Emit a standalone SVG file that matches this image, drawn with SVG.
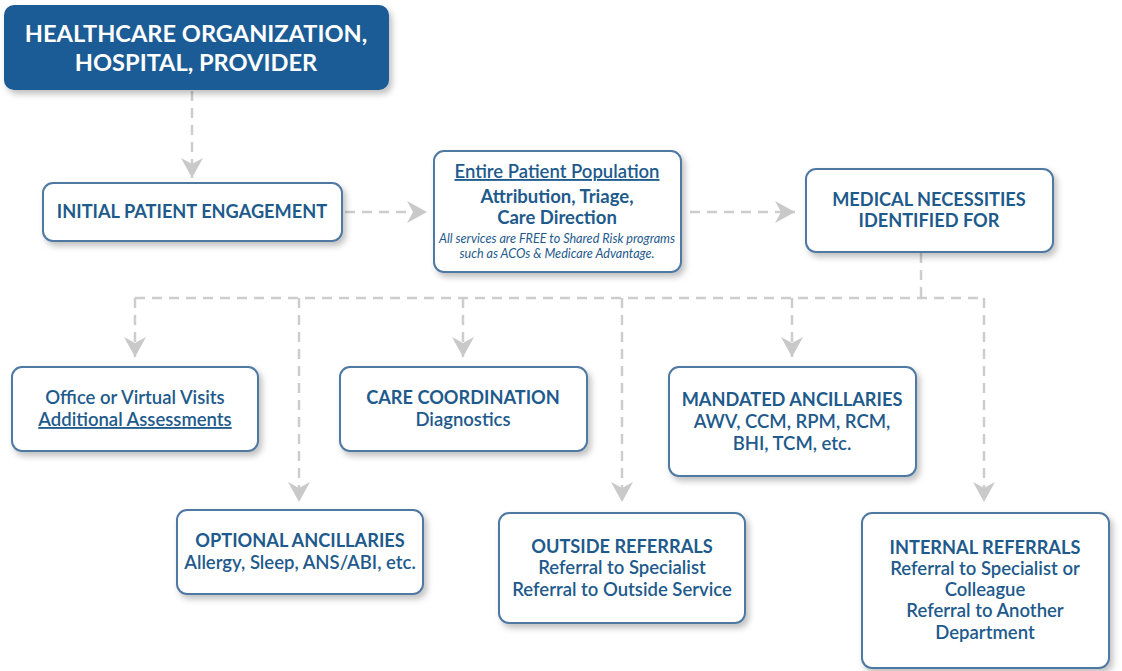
<svg xmlns="http://www.w3.org/2000/svg" width="1122" height="671" viewBox="0 0 1122 671">
<defs>
<filter id="sh" x="-10%" y="-10%" width="125%" height="135%">
<feDropShadow dx="3" dy="4" stdDeviation="3" flood-color="#000" flood-opacity="0.25"/>
</filter>
<marker id="ah" markerUnits="userSpaceOnUse" markerWidth="26" markerHeight="26" viewBox="-22 -13 24 26" refX="0" refY="0" orient="auto">
<path d="M-20,-11 L0,0 L-20,11 L-14,0 Z" fill="#c9c9c9"/>
</marker>
<style>
.box{fill:#fff;stroke:#4f78a3;stroke-width:2;filter:url(#sh)}
.t{font-family:Lato,"Liberation Sans",sans-serif;fill:#1e5a8c;text-anchor:middle}
.b{font-weight:700;font-size:18.2px}
.s{font-weight:600;font-size:18.5px}
.i{font-style:italic;font-size:12.6px}
.u{text-decoration:underline}
.c{fill:none;stroke:#cdcdcd;stroke-width:2.5;stroke-dasharray:10 7}
</style>
</defs>
<g id="connectors">
<path class="c" d="M192,91 V178" marker-end="url(#ah)"/>
<path class="c" d="M345,212 H427" marker-end="url(#ah)"/>
<path class="c" d="M690,212 H795" marker-end="url(#ah)"/>
<path class="c" d="M921,253 V298"/>
<path class="c" d="M135,298 H984"/>
<path class="c" d="M135,298 V357" marker-end="url(#ah)"/>
<path class="c" d="M299,298 V502" marker-end="url(#ah)"/>
<path class="c" d="M463,298 V357" marker-end="url(#ah)"/>
<path class="c" d="M622,298 V502" marker-end="url(#ah)"/>
<path class="c" d="M792,298 V357" marker-end="url(#ah)"/>
<path class="c" d="M984,298 V502" marker-end="url(#ah)"/>
</g>
<g id="top">
<rect x="4" y="5" width="385" height="85" rx="10" fill="#1c5b96" filter="url(#sh)"/>
<text class="t" x="196" y="42" style="fill:#fff;font-weight:700;font-size:23.6px">HEALTHCARE ORGANIZATION,</text>
<text class="t" x="196" y="71" style="fill:#fff;font-weight:700;font-size:23.6px">HOSPITAL, PROVIDER</text>
</g>
<g id="initial">
<rect class="box" x="43" y="183" width="299" height="58" rx="10"/>
<text class="t b" x="192" y="218">INITIAL PATIENT ENGAGEMENT</text>
</g>
<g id="population">
<rect class="box" x="434" y="151" width="247" height="121" rx="10"/>
<text class="t s u" x="557" y="178">Entire Patient Population</text>
<text class="t b" x="557" y="203" style="font-size:18.5px">Attribution, Triage,</text>
<text class="t b" x="557" y="224" style="font-size:18.5px">Care Direction</text>
<text class="t i" x="557" y="243">All services are FREE to Shared Risk programs</text>
<text class="t i" x="557" y="258">such as ACOs &amp; Medicare Advantage.</text>
</g>
<g id="necessities">
<rect class="box" x="806" y="169" width="247" height="83" rx="10"/>
<text class="t b" x="929" y="206">MEDICAL NECESSITIES</text>
<text class="t b" x="929" y="227">IDENTIFIED FOR</text>
</g>
<g id="office">
<rect class="box" x="12" y="367" width="246" height="84" rx="10"/>
<text class="t s" x="135" y="404">Office or Virtual Visits</text>
<text class="t s u" x="135" y="426">Additional Assessments</text>
</g>
<g id="care">
<rect class="box" x="340" y="367" width="247" height="84" rx="10"/>
<text class="t b" x="463" y="404">CARE COORDINATION</text>
<text class="t s" x="463" y="426">Diagnostics</text>
</g>
<g id="mandated">
<rect class="box" x="669" y="367" width="247" height="109" rx="10"/>
<text class="t b" x="792" y="406">MANDATED ANCILLARIES</text>
<text class="t s" x="792" y="428">AWV, CCM, RPM, RCM,</text>
<text class="t s" x="792" y="450">BHI, TCM, etc.</text>
</g>
<g id="optional">
<rect class="box" x="177" y="510" width="246" height="84" rx="10"/>
<text class="t b" x="300" y="547">OPTIONAL ANCILLARIES</text>
<text class="t s" x="300" y="569">Allergy, Sleep, ANS/ABI, etc.</text>
</g>
<g id="outside">
<rect class="box" x="499" y="513" width="246" height="110" rx="10"/>
<text class="t b" x="622" y="553">OUTSIDE REFERRALS</text>
<text class="t s" x="622" y="574">Referral to Specialist</text>
<text class="t s" x="622" y="596">Referral to Outside Service</text>
</g>
<g id="internal">
<rect class="box" x="862" y="513" width="247" height="155" rx="10"/>
<text class="t b" x="985" y="554">INTERNAL REFERRALS</text>
<text class="t s" x="985" y="575">Referral to Specialist or</text>
<text class="t s" x="985" y="596">Colleague</text>
<text class="t s" x="985" y="617">Referral to Another</text>
<text class="t s" x="985" y="639">Department</text>
</g>
</svg>
